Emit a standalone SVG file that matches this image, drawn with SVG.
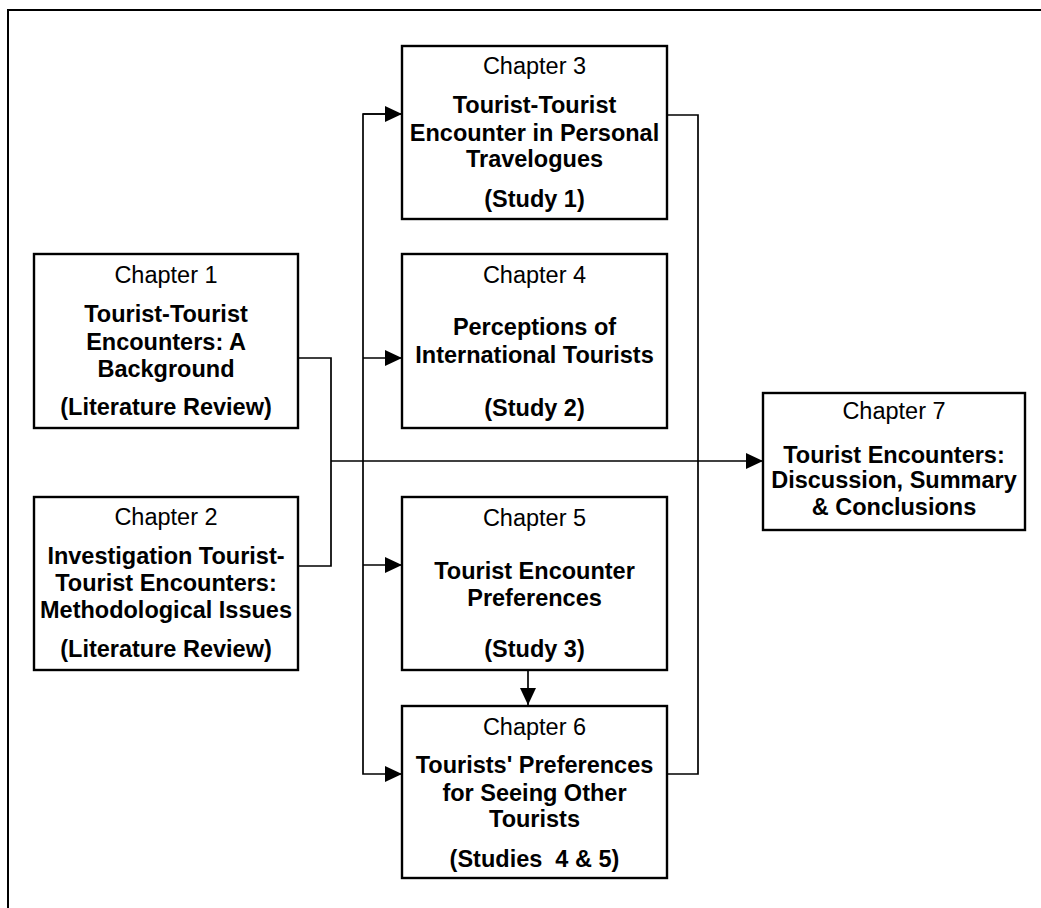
<svg xmlns="http://www.w3.org/2000/svg" width="1041" height="908" viewBox="0 0 1041 908">
<style>
.box{fill:#fff;stroke:#000;stroke-width:2.4}
.frame{fill:none;stroke:#000;stroke-width:2}
.ln{fill:none;stroke:#000;stroke-width:1.7}
text{font-family:"Liberation Sans",Arial,sans-serif;font-size:23.5px;fill:#000;text-anchor:middle}
.b{font-weight:bold}
</style>
<defs>
<marker id="ah" markerWidth="17" markerHeight="16" refX="17" refY="8" orient="auto" markerUnits="userSpaceOnUse">
<path d="M0,0 L17,8 L0,16 Z" fill="#000"/>
</marker>
</defs>
<rect width="1041" height="908" fill="#fff"/>
<path class="frame" d="M8,908 V10 H1041"/>
<g id="connectors">
<path class="ln" d="M298,358 H331 V566 H298"/>
<path class="ln" d="M331,461 H763" marker-end="url(#ah)"/>
<path class="ln" d="M402,114 H363 V774 H402" marker-end="url(#ah)"/>
<path class="ln" d="M363,114 H402" marker-end="url(#ah)"/>
<path class="ln" d="M363,358 H402" marker-end="url(#ah)"/>
<path class="ln" d="M363,565 H402" marker-end="url(#ah)"/>
<path class="ln" d="M667,115 H698 V774 H667"/>
<path class="ln" d="M528,670 V705" marker-end="url(#ah)"/>
</g>
<g id="ch1">
<rect class="box" x="34" y="254" width="264" height="174"/>
<text x="166" y="283">Chapter 1</text>
<text class="b" x="166" y="322">Tourist-Tourist</text>
<text class="b" x="166" y="350">Encounters: A</text>
<text class="b" x="166" y="377">Background</text>
<text class="b" x="166" y="415">(Literature Review)</text>
</g>
<g id="ch2">
<rect class="box" x="34" y="497" width="264" height="173"/>
<text x="166" y="525">Chapter 2</text>
<text class="b" x="166" y="564">Investigation Tourist-</text>
<text class="b" x="166" y="591">Tourist Encounters:</text>
<text class="b" x="166" y="618">Methodological Issues</text>
<text class="b" x="166" y="657">(Literature Review)</text>
</g>
<g id="ch3">
<rect class="box" x="402" y="46" width="265" height="173"/>
<text x="534.5" y="74">Chapter 3</text>
<text class="b" x="534.5" y="113">Tourist-Tourist</text>
<text class="b" x="534.5" y="141">Encounter in Personal</text>
<text class="b" x="534.5" y="167">Travelogues</text>
<text class="b" x="534.5" y="207">(Study 1)</text>
</g>
<g id="ch4">
<rect class="box" x="402" y="254" width="265" height="174"/>
<text x="534.5" y="283">Chapter 4</text>
<text class="b" x="534.5" y="335">Perceptions of</text>
<text class="b" x="534.5" y="363">International Tourists</text>
<text class="b" x="534.5" y="416">(Study 2)</text>
</g>
<g id="ch5">
<rect class="box" x="402" y="497" width="265" height="173"/>
<text x="534.5" y="526">Chapter 5</text>
<text class="b" x="534.5" y="579">Tourist Encounter</text>
<text class="b" x="534.5" y="606">Preferences</text>
<text class="b" x="534.5" y="657">(Study 3)</text>
</g>
<g id="ch6">
<rect class="box" x="402" y="706" width="265" height="172"/>
<text x="534.5" y="735">Chapter 6</text>
<text class="b" x="534.5" y="773">Tourists' Preferences</text>
<text class="b" x="534.5" y="801">for Seeing Other</text>
<text class="b" x="534.5" y="827">Tourists</text>
<text class="b" x="534.5" y="867" xml:space="preserve">(Studies  4 &amp; 5)</text>
</g>
<g id="ch7">
<rect class="box" x="763" y="393" width="262" height="137"/>
<text x="894" y="419">Chapter 7</text>
<text class="b" x="894" y="463">Tourist Encounters:</text>
<text class="b" x="894" y="488">Discussion, Summary</text>
<text class="b" x="894" y="515">&amp; Conclusions</text>
</g>
</svg>
